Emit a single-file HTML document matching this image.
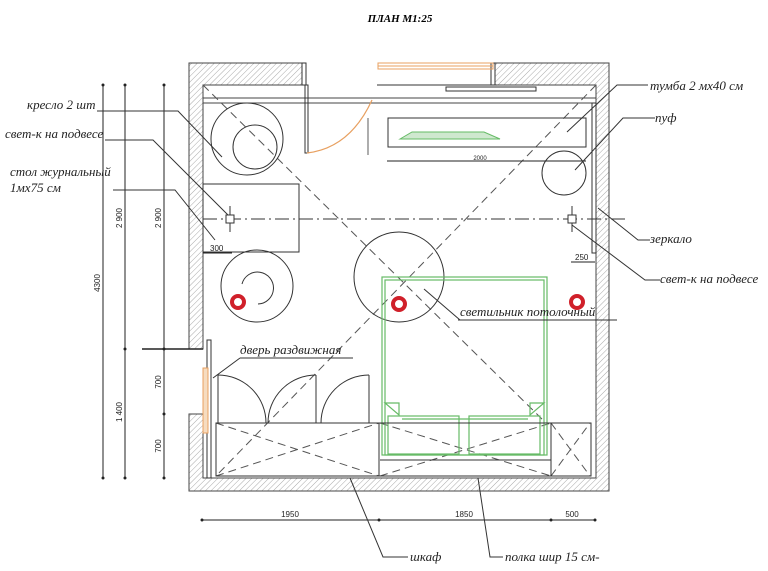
<!DOCTYPE html>
<html><head><meta charset="utf-8"><style>
html,body{margin:0;padding:0;background:#fff;}
svg{display:block;}
.t{font-family:"Liberation Serif","Noto Serif CJK SC",serif;font-style:italic;font-size:13px;fill:#222;}
.d{font-family:"Liberation Sans",sans-serif;font-size:8px;fill:#222;}
</style></head><body>
<svg width="768" height="571" viewBox="0 0 768 571" xmlns="http://www.w3.org/2000/svg">
<defs>
<pattern id="h" width="4" height="4" patternUnits="userSpaceOnUse" patternTransform="rotate(45)">
<line x1="0" y1="0" x2="0" y2="4" stroke="#aaa" stroke-width="1"/>
</pattern>
</defs>
<text x="400" y="22" text-anchor="middle" style="font-family:'Liberation Serif',serif;font-style:italic;font-weight:bold;font-size:11px">ПЛАН М1:25</text>

<!-- walls -->
<g stroke="#444" stroke-width="1" fill="url(#h)">
<path d="M189,63 H302 V85 H203 V349 H189 Z"/>
<path d="M495,63 H609 V491 H189 V414 H203 V478 H596 V85 H495 Z"/>
</g>
<!-- window -->
<rect x="302" y="63" width="4" height="22" fill="#fff" stroke="#333"/>
<rect x="491" y="63" width="4" height="22" fill="#fff" stroke="#333"/>
<rect x="378" y="63" width="115" height="6" fill="none" stroke="#e8a060"/>
<line x1="378" y1="66" x2="493" y2="66" stroke="#e8a060"/>
<line x1="377" y1="85" x2="497" y2="85" stroke="#333"/>
<rect x="446" y="87" width="90" height="4" fill="none" stroke="#333"/>
<!-- shelf lines top -->
<line x1="203" y1="98" x2="596" y2="98" stroke="#444"/>
<line x1="203" y1="103" x2="596" y2="103" stroke="#444"/>
<!-- entry door -->
<rect x="305" y="85" width="3" height="68" fill="none" stroke="#333"/>
<path d="M307,153 Q350,148 372,100" fill="none" stroke="#e8a060" stroke-width="1.2"/>
<line x1="368" y1="118" x2="368" y2="155" stroke="#333" stroke-width="0.8"/>
<!-- diagonals -->
<g stroke="#555" stroke-dasharray="8,5" fill="none">
<line x1="203" y1="85" x2="546" y2="423"/>
<line x1="596" y1="85" x2="216" y2="476"/>
<line x1="216" y1="423" x2="379" y2="476"/>
<line x1="216" y1="476" x2="379" y2="423"/>
<line x1="380" y1="423" x2="551" y2="476"/>
<line x1="380" y1="476" x2="551" y2="423"/>
<line x1="551" y1="423" x2="590" y2="476"/>
<line x1="551" y1="476" x2="590" y2="423"/>
</g>
<line x1="203" y1="219" x2="628" y2="219" stroke="#333" stroke-dasharray="14,4,2,4"/>
<!-- armchairs -->
<g fill="none" stroke="#333">
<circle cx="247" cy="139" r="36"/>
<circle cx="255" cy="147" r="22"/>
<circle cx="257" cy="286" r="36"/>
<path d="M242,284 A16,16 0 1 1 258,304"/>
<rect x="203" y="184" width="96" height="68"/>
<circle cx="399" cy="277" r="45"/>
<rect x="388" y="118" width="198" height="29"/>
<circle cx="564" cy="173" r="22"/>
<rect x="592" y="103" width="4" height="150"/>
</g>
<path d="M400,139 L412,132 L484,132 L500,139 Z" fill="#cfe8cf" stroke="#6b6"/>
<!-- pendants -->
<g fill="#fff" stroke="#333">
<line x1="230" y1="206" x2="230" y2="232"/><rect x="226" y="215" width="8" height="8"/>
<line x1="572" y1="206" x2="572" y2="232"/><rect x="568" y="215" width="8" height="8"/>
</g>
<!-- dims small -->
<g stroke="#222" stroke-width="1">
<line x1="387" y1="161" x2="586" y2="161"/>
<line x1="203" y1="253" x2="232" y2="253"/>
<line x1="571" y1="262" x2="595" y2="262"/>
</g>
<text x="480" y="160" class="d" text-anchor="middle" style="font-size:6px">2000</text>
<text x="210" y="251" class="d">300</text>
<text x="575" y="260" class="d">250</text>
<!-- bed -->
<g fill="none" stroke="#6b6" stroke-width="1.2">
<rect x="382" y="277" width="165" height="178"/>
<rect x="385" y="280" width="159" height="175"/>
<path d="M385,403 H399 V415 Z M544,403 H530 V415 Z"/>
<line x1="402" y1="419" x2="528" y2="419"/>
<rect x="388" y="416" width="71" height="38"/>
<rect x="469" y="416" width="71" height="38"/>
</g>
<!-- wardrobe -->
<g fill="none" stroke="#333">
<rect x="216" y="423" width="163" height="53"/>
<rect x="379" y="423" width="212" height="53"/>
<line x1="380" y1="460" x2="551" y2="460"/>
<line x1="551" y1="423" x2="551" y2="476"/>
<line x1="218" y1="375" x2="218" y2="423"/>
<line x1="316" y1="375" x2="316" y2="423"/>
<line x1="369" y1="375" x2="369" y2="423"/>
<path d="M218,375 A48,48 0 0 1 266,423 M316,375 A48,48 0 0 0 268,423 M369,375 A48,48 0 0 0 321,423"/>
<rect x="207" y="340" width="4" height="138"/>
</g>
<rect x="203" y="368" width="5" height="65" fill="#f6dcc0" stroke="#e8a060"/>
<!-- vertical dims -->
<g stroke="#222">
<line x1="103" y1="85" x2="103" y2="478"/>
<line x1="125" y1="85" x2="125" y2="478"/>
<line x1="164" y1="85" x2="164" y2="478"/>
<line x1="142" y1="349" x2="203" y2="349" stroke-width="1.5"/>
<line x1="202" y1="520" x2="595" y2="520"/>
</g>
<g fill="#222">
<circle cx="103" cy="85" r="1.5"/><circle cx="103" cy="478" r="1.5"/>
<circle cx="125" cy="85" r="1.5"/><circle cx="125" cy="349" r="1.5"/><circle cx="125" cy="478" r="1.5"/>
<circle cx="164" cy="85" r="1.5"/><circle cx="164" cy="349" r="1.5"/><circle cx="164" cy="414" r="1.5"/><circle cx="164" cy="478" r="1.5"/>
<circle cx="202" cy="520" r="1.5"/><circle cx="379" cy="520" r="1.5"/><circle cx="551" cy="520" r="1.5"/><circle cx="595" cy="520" r="1.5"/>
</g>
<g class="d">
<text transform="translate(100,283) rotate(-90)" text-anchor="middle">4300</text>
<text transform="translate(122,218) rotate(-90)" text-anchor="middle">2 900</text>
<text transform="translate(161,218) rotate(-90)" text-anchor="middle">2 900</text>
<text transform="translate(122,412) rotate(-90)" text-anchor="middle">1 400</text>
<text transform="translate(161,382) rotate(-90)" text-anchor="middle">700</text>
<text transform="translate(161,446) rotate(-90)" text-anchor="middle">700</text>
<text x="290" y="517" text-anchor="middle">1950</text>
<text x="464" y="517" text-anchor="middle">1850</text>
<text x="572" y="517" text-anchor="middle">500</text>
</g>
<!-- leaders -->
<g stroke="#333" fill="none">
<polyline points="97,111 178,111 222,157"/>
<polyline points="105,140 153,140 228,215"/>
<polyline points="113,190 175,190 215,240"/>
<polyline points="240,358 353,358"/>
<polyline points="240,358 213,378"/>
<polyline points="458,320 617,320"/>
<polyline points="460,320 424,289"/>
<polyline points="648,85 617,85 567,132"/>
<polyline points="655,118 623,118 575,170"/>
<polyline points="650,240 638,240 598,208"/>
<polyline points="660,280 645,280 572,225"/>
<polyline points="408,557 383,557 350,478"/>
<polyline points="503,557 490,557 478,478"/>
</g>
<g class="t">
<text x="27" y="109">кресло 2 шт</text>
<text x="5" y="138">свет-к на подвесе</text>
<text x="10" y="176">стол журнальный</text>
<text x="10" y="192">1мх75 см</text>
<text x="240" y="354">дверь раздвижная</text>
<text x="460" y="316">светильник потолочный</text>
<text x="650" y="90">тумба 2 мх40 см</text>
<text x="655" y="122">пуф</text>
<text x="650" y="243">зеркало</text>
<text x="660" y="283">свет-к на подвесе</text>
<text x="410" y="561">шкаф</text>
<text x="505" y="561">полка шир 15 см-</text>
</g>
<g fill="#fff" stroke="#d0202a" stroke-width="4">
<circle cx="238" cy="302" r="6"/>
<circle cx="399" cy="304" r="6"/>
<circle cx="577" cy="302" r="6"/>
</g>
</svg>
</body></html>
